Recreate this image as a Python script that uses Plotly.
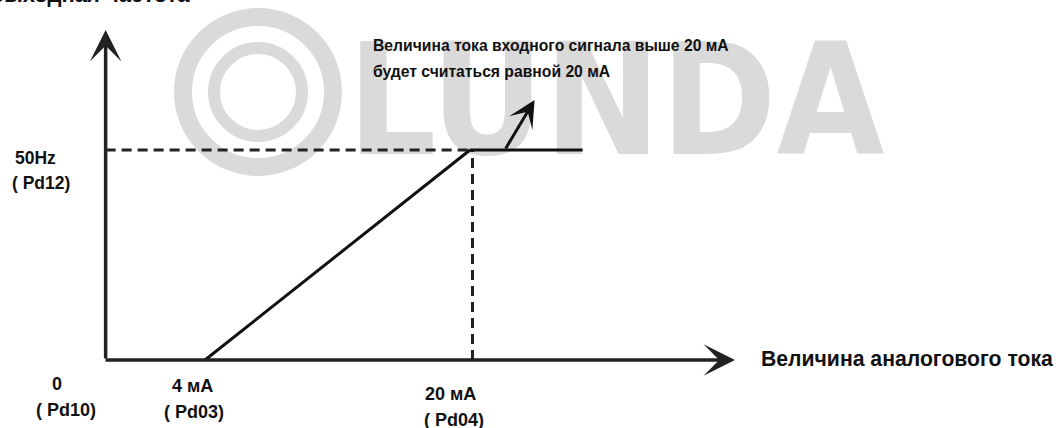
import plotly.graph_objects as go

# ---- data (schematic: analog current in mA vs output frequency in Hz) ----
ramp_current = [4, 20]          # mA
ramp_freq = [0, 50]             # Hz
sat_current = [20, 26.8]        # mA, saturation continues above 20 mA
sat_freq = [50, 50]
axis_origin_current = -2        # where the frequency axis is drawn
axis_end_current = 36
axis_end_freq = 78.6
hint_arrow_current = [22.1, 23.9]
hint_arrow_freq = [50, 61.9]

x_tick_labels = ["0", "4 мА", "20 мА"]
x_tick_params = ["( Pd10)", "( Pd03)", "( Pd04)"]
y_tick_label = "50Hz"
y_tick_param = "( Pd12)"

# pixel -> data mapping for the canvas (layout only)
W, H = 1064, 428
PX_PER_MA = (470 - 205) / 16.0
PX_PER_HZ = (360 - 150) / 50.0
x0_px, y0_px = 205 - 4 * PX_PER_MA, 360
x_range = [(0 - x0_px) / PX_PER_MA, (W - x0_px) / PX_PER_MA]
y_range = [-(H - y0_px) / PX_PER_HZ, y0_px / PX_PER_HZ]


def xd(px):
    return (px - x0_px) / PX_PER_MA


def yd(py):
    return (y0_px - py) / PX_PER_HZ


FONT = "Liberation Sans, Arial, sans-serif"
WM_FONT = "DejaVu Sans Condensed, Liberation Sans Narrow, Liberation Sans, sans-serif"
INK = "#111111"
WM = "#dadada"

fig = go.Figure()

# watermark text (first trace -> drawn beneath everything)
fig.add_trace(go.Scatter(x=[xd(616)], y=[yd(115)], mode="text", text=["<b>LUNDA</b>"],
                         textfont=dict(family=WM_FONT, size=155, color=WM),
                         textposition="middle center", hoverinfo="skip", showlegend=False,
                         cliponaxis=False))

# dashed guides
fig.add_trace(go.Scatter(x=[axis_origin_current, ramp_current[1]], y=[ramp_freq[1]] * 2,
                         mode="lines", line=dict(color="#222", width=3, dash="10px,6px"),
                         hoverinfo="skip", showlegend=False))
fig.add_trace(go.Scatter(x=[ramp_current[1] + 0.15] * 2, y=[0, ramp_freq[1]],
                         mode="lines", line=dict(color="#222", width=3, dash="10px,6px"),
                         hoverinfo="skip", showlegend=False))
# ramp and saturation
fig.add_trace(go.Scatter(x=ramp_current, y=ramp_freq, mode="lines",
                         line=dict(color=INK, width=3), hoverinfo="skip", showlegend=False))
fig.add_trace(go.Scatter(x=sat_current, y=sat_freq, mode="lines",
                         line=dict(color=INK, width=3), hoverinfo="skip", showlegend=False))

annotations = []
# axes with arrowheads
annotations.append(dict(x=axis_origin_current, y=axis_end_freq, ax=axis_origin_current, ay=0,
                        xref="x", yref="y", axref="x", ayref="y", showarrow=True, text="",
                        arrowhead=3, arrowsize=1.5, arrowwidth=3.5, arrowcolor="#222"))
annotations.append(dict(x=axis_end_current, y=0, ax=axis_origin_current - 0.1, ay=0,
                        xref="x", yref="y", axref="x", ayref="y", showarrow=True, text="",
                        arrowhead=3, arrowsize=1.5, arrowwidth=3.5, arrowcolor="#222"))
# hint arrow
annotations.append(dict(x=hint_arrow_current[1], y=hint_arrow_freq[1],
                        ax=hint_arrow_current[0], ay=hint_arrow_freq[0],
                        xref="x", yref="y", axref="x", ayref="y", showarrow=True, text="",
                        arrowhead=3, arrowsize=1.5, arrowwidth=3, arrowcolor=INK))


def label(txt, px, py, size=16, anchor="left"):
    annotations.append(dict(x=px / W, y=1 - py / H, xref="paper", yref="paper",
                            text="<b>" + txt + "</b>",
                            showarrow=False, font=dict(family=FONT, size=size, color=INK),
                            xanchor=anchor, yanchor="middle", align="left"))


label("Выходная частота", -14, -6, size=22)
label("Величина тока входного сигнала выше 20 мА", 371, 45, size=15.7)
label("будет считаться равной 20 мА", 371, 71, size=15.7)
label("Величина аналогового тока", 759, 358, size=21.2)

label(y_tick_label, 13, 158, size=17.5)
label(y_tick_param, 10, 183, size=17.5)

x_label_pos = [(50, 384, 34, 410), (170, 386, 162, 412), (423, 394, 422, 420)]
for l1, l2, (ax1, ay1, ax2, ay2) in zip(x_tick_labels, x_tick_params, x_label_pos):
    label(l1, ax1, ay1, size=18)
    label(l2, ax2, ay2, size=18)

# watermark rings
cx, cy = 258, 92
shapes = [
    dict(type="circle", xref="x", yref="y", x0=xd(cx - 75), x1=xd(cx + 75), y0=yd(cy + 75), y1=yd(cy - 75),
         line=dict(color=WM, width=18), layer="below"),
    dict(type="circle", xref="x", yref="y", x0=xd(cx - 44), x1=xd(cx + 44), y0=yd(cy + 44), y1=yd(cy - 44),
         line=dict(color=WM, width=12), layer="below"),
]

fig.update_layout(
    width=W, height=H, margin=dict(l=0, r=0, t=0, b=0),
    paper_bgcolor="white", plot_bgcolor="white",
    xaxis=dict(range=x_range, visible=False, fixedrange=True),
    yaxis=dict(range=y_range, visible=False, fixedrange=True),
    annotations=annotations, shapes=shapes, showlegend=False,
)
fig.write_html("out.html", config={"displayModeBar": False},
               post_script="document.body.style.margin='0';document.body.style.overflow='hidden';")
